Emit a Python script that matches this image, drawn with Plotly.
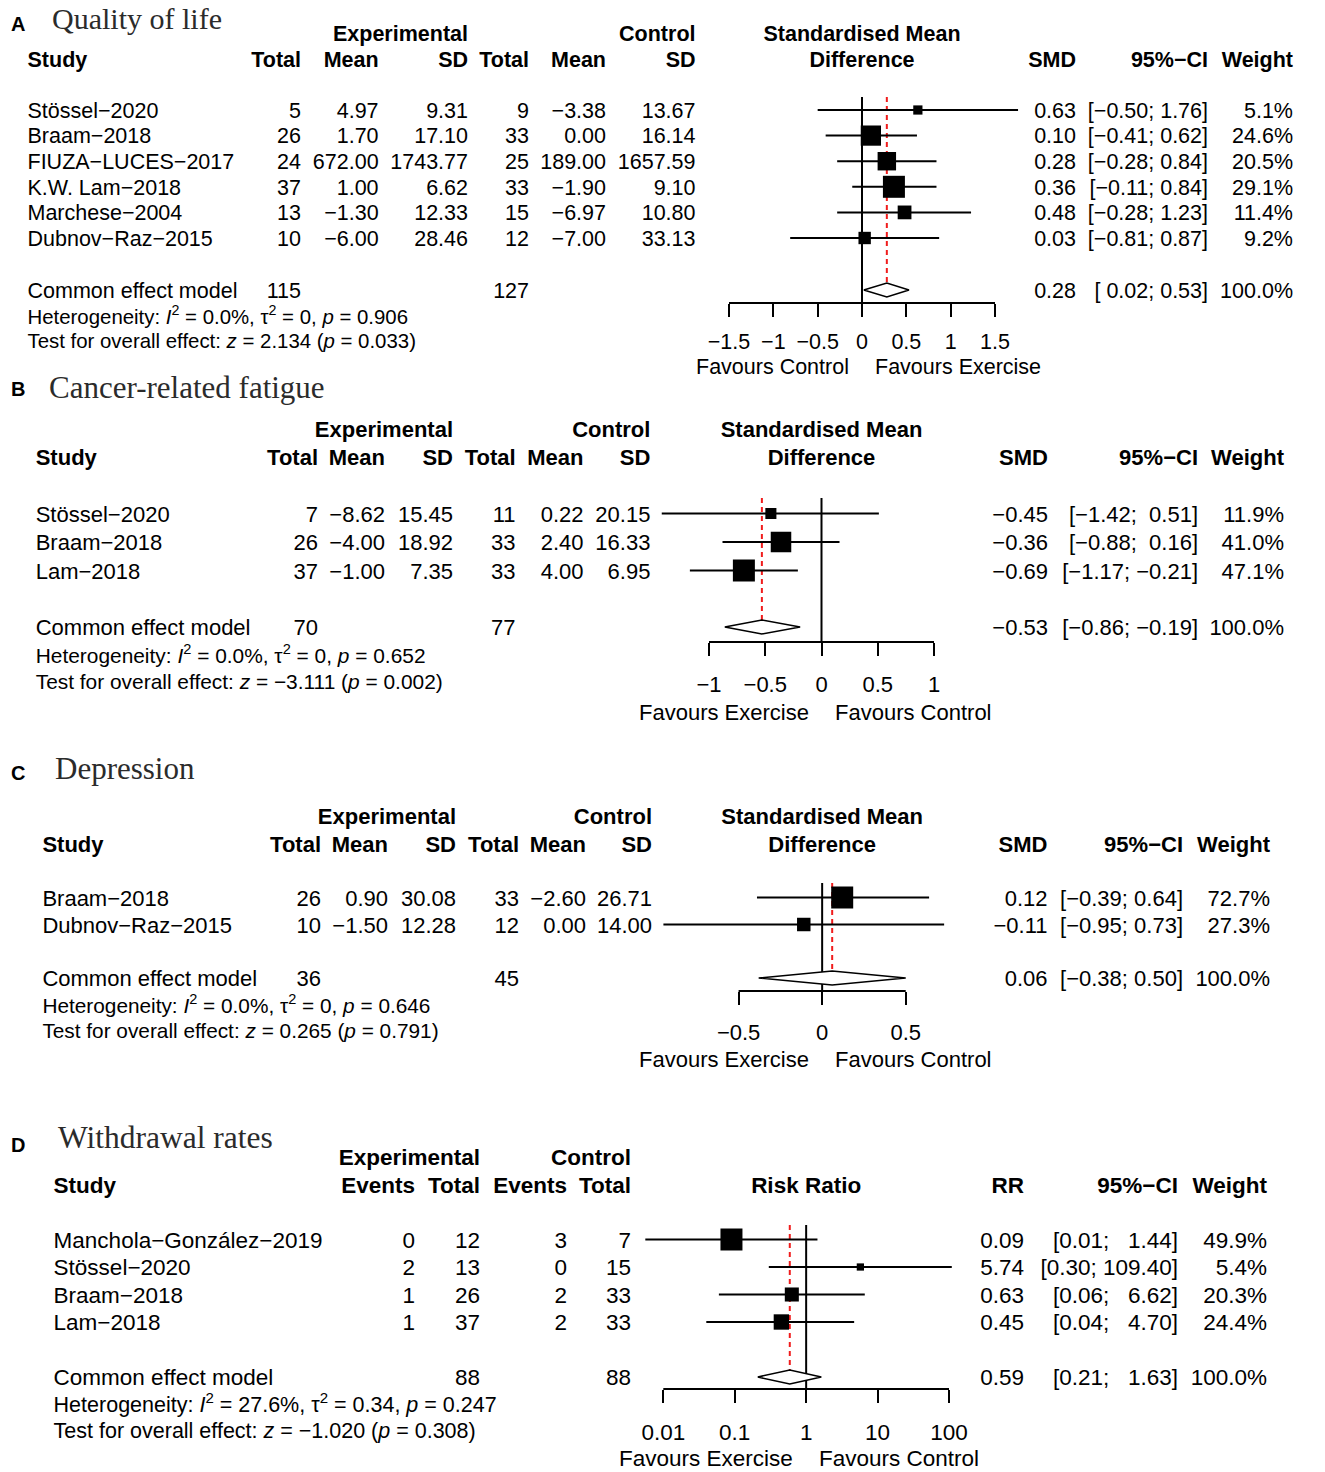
import math
import plotly.graph_objects as go

W, H = 1325, 1472
SANS = "Liberation Sans, Arial, Helvetica, sans-serif"
SERIF = "Liberation Serif, Times New Roman, serif"
MINUS = "\u2212"
TXT_DY = 2.5  # small downward nudge so text sits on the row centre

# ---------------- Panel A: Quality of life ----------------
A_study = ["Stössel−2020", "Braam−2018", "FIUZA−LUCES−2017", "K.W. Lam−2018", "Marchese−2004", "Dubnov−Raz−2015"]
A_exp_n = [5, 26, 24, 37, 13, 10]
A_exp_mean = [4.97, 1.70, 672.00, 1.00, -1.30, -6.00]
A_exp_sd = [9.31, 17.10, 1743.77, 6.62, 12.33, 28.46]
A_ctl_n = [9, 33, 25, 33, 15, 12]
A_ctl_mean = [-3.38, 0.00, 189.00, -1.90, -6.97, -7.00]
A_ctl_sd = [13.67, 16.14, 1657.59, 9.10, 10.80, 33.13]
A_est = [0.63, 0.10, 0.28, 0.36, 0.48, 0.03]
A_lo = [-0.50, -0.41, -0.28, -0.11, -0.28, -0.81]
A_hi = [1.76, 0.62, 0.84, 0.84, 1.23, 0.87]
A_weight = [5.1, 24.6, 20.5, 29.1, 11.4, 9.2]
A_pooled = [0.28, 0.02, 0.53]
A_total = [115, 127]
A_het = ["0.0%", "0", "0.906"]
A_test = ["2.134", "0.033"]
A_ticks = [-1.5, -1, -0.5, 0, 0.5, 1, 1.5]
A_ticklabels = ["−1.5", "−1", "−0.5", "0", "0.5", "1", "1.5"]
A_fav = ["Favours Control", "Favours Exercise"]

# ---------------- Panel B: Cancer-related fatigue ----------------
B_study = ["Stössel−2020", "Braam−2018", "Lam−2018"]
B_exp_n = [7, 26, 37]
B_exp_mean = [-8.62, -4.00, -1.00]
B_exp_sd = [15.45, 18.92, 7.35]
B_ctl_n = [11, 33, 33]
B_ctl_mean = [0.22, 2.40, 4.00]
B_ctl_sd = [20.15, 16.33, 6.95]
B_est = [-0.45, -0.36, -0.69]
B_lo = [-1.42, -0.88, -1.17]
B_hi = [0.51, 0.16, -0.21]
B_weight = [11.9, 41.0, 47.1]
B_pooled = [-0.53, -0.86, -0.19]
B_total = [70, 77]
B_het = ["0.0%", "0", "0.652"]
B_test = ["−3.111", "0.002"]
B_ticks = [-1, -0.5, 0, 0.5, 1]
B_ticklabels = ["−1", "−0.5", "0", "0.5", "1"]
B_fav = ["Favours Exercise", "Favours Control"]

# ---------------- Panel C: Depression ----------------
C_study = ["Braam−2018", "Dubnov−Raz−2015"]
C_exp_n = [26, 10]
C_exp_mean = [0.90, -1.50]
C_exp_sd = [30.08, 12.28]
C_ctl_n = [33, 12]
C_ctl_mean = [-2.60, 0.00]
C_ctl_sd = [26.71, 14.00]
C_est = [0.12, -0.11]
C_lo = [-0.39, -0.95]
C_hi = [0.64, 0.73]
C_weight = [72.7, 27.3]
C_pooled = [0.06, -0.38, 0.50]
C_total = [36, 45]
C_het = ["0.0%", "0", "0.646"]
C_test = ["0.265", "0.791"]
C_ticks = [-0.5, 0, 0.5]
C_ticklabels = ["−0.5", "0", "0.5"]
C_fav = ["Favours Exercise", "Favours Control"]

# ---------------- Panel D: Withdrawal rates ----------------
D_study = ["Manchola−González−2019", "Stössel−2020", "Braam−2018", "Lam−2018"]
D_exp_events = [0, 2, 1, 1]
D_exp_n = [12, 13, 26, 37]
D_ctl_events = [3, 0, 2, 2]
D_ctl_n = [7, 15, 33, 33]
D_est = [0.09, 5.74, 0.63, 0.45]
D_lo = [0.0056, 0.30, 0.06, 0.04]
D_hi = [1.44, 109.40, 6.62, 4.70]
D_weight = [49.9, 5.4, 20.3, 24.4]
D_pooled = [0.59, 0.21, 1.63]
D_total = [88, 88]
D_het = ["27.6%", "0.34", "0.247"]
D_test = ["−1.020", "0.308"]
D_ticks = [0.01, 0.1, 1, 10, 100]
D_ticklabels = ["0.01", "0.1", "1", "10", "100"]
D_fav = ["Favours Exercise", "Favours Control"]


def fmt(v, d=2):
    return f"{v:.{d}f}".replace("-", MINUS)


def pad_left(strs):
    n = max(len(s) for s in strs)
    return ["\u00a0" * (n - len(s)) + s for s in strs]


def ci_strings(lo, hi):
    los = pad_left([fmt(v) for v in lo])
    his = pad_left([fmt(v) for v in hi])
    return [f"[{a}; {b}]" for a, b in zip(los, his)]


fig = go.Figure()


def text_trace(x, ys, texts, pos, size, bold=False, family=SANS, color="black", xaxis="x"):
    if bold:
        texts = [f"<b>{t}</b>" for t in texts]
    fig.add_trace(go.Scatter(
        x=[x] * len(ys), y=[y + TXT_DY for y in ys], text=texts, mode="text", textposition=pos,
        textfont=dict(family=family, size=size, color=color),
        xaxis=xaxis, yaxis="y", hoverinfo="skip", showlegend=False, cliponaxis=False))


def line_trace(xs, ys, ax, width=2, color="black", dash="solid"):
    fig.add_trace(go.Scatter(
        x=xs, y=ys, mode="lines", line=dict(color=color, width=width, dash=dash),
        xaxis=ax, yaxis="y", hoverinfo="skip", showlegend=False))


def draw_panel(lay, letter, title, study, col_hdr, col_vals, grp_hdr, common_vals,
               est, lo, hi, weight, pooled, est_hdr, fx_hdr, het, test,
               ticks, ticklabels, fav, log=False):
    fs = lay["fs"]
    n = len(study)
    rows = [lay["row0"] + i * lay["dy"] for i in range(n)]
    # letter and title
    text_trace(lay["letter_x"], [lay["letter_y"]], [letter], "middle right", lay["letter_fs"], bold=True)
    text_trace(lay["title_x"], [lay["title_y"]], [title], "middle right", lay["title_fs"],
               family=SERIF, color="#2b2b2b")
    # headers
    text_trace(lay["study_x"], [lay["h2"]], ["Study"], "middle right", fs, bold=True)
    for (gx, gtxt) in zip(lay["grp_x"], grp_hdr):
        text_trace(gx, [lay["h1"]], [gtxt], "middle left", fs, bold=True)
    for cx, h in zip(lay["cols"], col_hdr):
        text_trace(cx, [lay["h2"]], [h], "middle left", fs, bold=True)
    for rx, h in zip(lay["right"], [est_hdr, "95%−CI", "Weight"]):
        text_trace(rx, [lay["h2"]], [h], "middle left", fs, bold=True)
    # study rows
    text_trace(lay["study_x"], rows, study, "middle right", fs)
    for cx, vals in zip(lay["cols"], col_vals):
        text_trace(cx, rows, vals, "middle left", fs)
    ci_txt = ci_strings(lo + [pooled[1]], hi + [pooled[2]])
    est_txt = [fmt(v) for v in est + [pooled[0]]]
    w_txt = [f"{w:.1f}%" for w in weight] + ["100.0%"]
    allrows = rows + [lay["common"]]
    text_trace(lay["right"][0], allrows, est_txt, "middle left", fs)
    text_trace(lay["right"][1], allrows, ci_txt, "middle left", fs)
    text_trace(lay["right"][2], allrows, w_txt, "middle left", fs)
    # common effect row + heterogeneity
    text_trace(lay["study_x"], [lay["common"]], ["Common effect model"], "middle right", fs)
    for cx, v in zip(lay["common_cols"], common_vals):
        text_trace(cx, [lay["common"]], [str(v)], "middle left", fs)
    het_txt = (f"Heterogeneity: <i>I</i><sup>2</sup> = {het[0]}, τ<sup>2</sup> = {het[1]}, "
               f"<i>p</i> = {het[2]}")
    test_txt = f"Test for overall effect: <i>z</i> = {test[0]} (<i>p</i> = {test[1]})"
    text_trace(lay["study_x"], [lay["het"]], [het_txt], "middle right", lay["het_fs"])
    text_trace(lay["study_x"], [lay["test"]], [test_txt], "middle right", lay["het_fs"])

    # ---- forest axis ----
    ax = lay["ax"]
    axname = "xaxis" + ax[1:]
    t0, t1 = ticks[0], ticks[-1]
    if log:
        t0, t1 = math.log10(t0), math.log10(t1)
    s = (lay["tick_px"][1] - lay["tick_px"][0]) / (t1 - t0)
    r0 = t0 + (lay["dom"][0] - lay["tick_px"][0]) / s
    r1 = t0 + (lay["dom"][1] - lay["tick_px"][0]) / s
    fig.layout[axname] = dict(
        domain=[lay["dom"][0] / W, lay["dom"][1] / W], range=[r0, r1],
        type="log" if log else "linear", anchor="free", position=1 - lay["axis"] / H,
        tickmode="array", tickvals=ticks, ticktext=ticklabels, ticks="outside",
        ticklen=13, tickwidth=2, tickcolor="black", showline=False, showgrid=False,
        zeroline=False, tickfont=dict(family=SANS, size=fs, color="black"),
        ticklabelstandoff=lay["standoff"], fixedrange=True)
    ref = 1 if log else 0
    center = math.sqrt(ticks[0] * ticks[-1]) if log else (ticks[0] + ticks[-1]) / 2
    # header above forest
    if len(fx_hdr) == 2:
        text_trace(center, [lay["h1"]], [fx_hdr[0]], "middle center", fs, bold=True, xaxis=ax)
    text_trace(center, [lay["h2"]], [fx_hdr[-1]], "middle center", fs, bold=True, xaxis=ax)
    # axis line
    line_trace([ticks[0], ticks[-1]], [lay["axis"], lay["axis"]], ax, width=2)
    # reference line
    line_trace([ref, ref], [lay["zero_top"], lay["axis"]], ax, width=2)
    # pooled dashed line
    dh = 7
    line_trace([pooled[0], pooled[0]], [lay["zero_top"], lay["common"] - dh], ax,
               width=2, color="#f01c1c", dash="5px,4px")
    # CI lines
    xs, ys = [], []
    for y, a, b in zip(rows, lo, hi):
        xs += [a, b, None]
        ys += [y, y, None]
    line_trace(xs, ys, ax, width=2)
    # squares (side proportional to sqrt of weight)
    wmax = max(weight)
    sizes = [22 * math.sqrt(w / wmax) for w in weight]
    fig.add_trace(go.Scatter(
        x=est, y=rows, mode="markers",
        marker=dict(symbol="square", size=sizes, color="#000000", opacity=1,
                    line=dict(width=0)),
        xaxis=ax, yaxis="y", hoverinfo="skip", showlegend=False, cliponaxis=False))
    # diamond
    yc = lay["common"]
    fig.add_trace(go.Scatter(
        x=[pooled[1], pooled[0], pooled[2], pooled[0], pooled[1]],
        y=[yc, yc - dh, yc, yc + dh, yc], mode="lines", fill="toself",
        fillcolor="white", line=dict(color="black", width=1.5),
        xaxis=ax, yaxis="y", hoverinfo="skip", showlegend=False))
    # favours labels
    fig.add_annotation(x=0, y=lay["fav"], xref=ax, yref="y", text=fav[0], showarrow=False,
                       xanchor="right", yanchor="middle", xshift=-lay["fav_gap"],
                       font=dict(family=SANS, size=fs, color="black"))
    fig.add_annotation(x=0, y=lay["fav"], xref=ax, yref="y", text=fav[1], showarrow=False,
                       xanchor="left", yanchor="middle", xshift=lay["fav_gap"],
                       font=dict(family=SANS, size=fs, color="black"))


A_lay = dict(ax="x2", fs=21.5, het_fs=20.4, letter_x=11, letter_y=23, letter_fs=20,
             title_x=52, title_y=19, title_fs=30,
             h1=33, h2=59, row0=110, dy=25.6, common=290, het=316, test=340,
             axis=303, zero_top=97, fav=367, study_x=27.5,
             cols=[301, 378.6, 468, 529, 606, 695.5], grp_x=[468, 695.5],
             common_cols=[301, 529], right=[1076, 1208, 1293],
             tick_px=(729, 995), dom=(630, 1040), standoff=6, fav_gap=11)
B_lay = dict(ax="x3", fs=22, het_fs=20.9, letter_x=11, letter_y=388.5, letter_fs=20,
             title_x=49, title_y=388, title_fs=31,
             h1=429, h2=457, row0=513.5, dy=28.5, common=627, het=655.5, test=681,
             axis=642, zero_top=498, fav=712, study_x=35.7,
             cols=[318, 385, 453, 515.6, 583.5, 650.4], grp_x=[453, 650.4],
             common_cols=[318, 515.6], right=[1048, 1198, 1284],
             tick_px=(709, 934), dom=(630, 1040), standoff=10, fav_gap=11)
C_lay = dict(ax="x4", fs=22, het_fs=20.8, letter_x=11, letter_y=772, letter_fs=20,
             title_x=55, title_y=769, title_fs=31,
             h1=816, h2=843.5, row0=897.5, dy=27, common=978, het=1005.5, test=1030,
             axis=991, zero_top=883, fav=1059, study_x=42.4,
             cols=[321, 388, 456, 519, 586, 652], grp_x=[456, 652],
             common_cols=[321, 519], right=[1047.5, 1183, 1270],
             tick_px=(738.6, 905.7), dom=(630, 1040), standoff=9, fav_gap=11)
D_lay = dict(ax="x5", fs=22.5, het_fs=21.5, letter_x=11, letter_y=1144, letter_fs=20,
             title_x=58, title_y=1138, title_fs=31.5,
             h1=1157, h2=1184.5, row0=1239.5, dy=27.5, common=1377, het=1404, test=1430,
             axis=1389, zero_top=1225, fav=1458, study_x=53.6,
             cols=[415, 480, 567, 631], grp_x=[480, 631],
             common_cols=[480, 631], right=[1024, 1178, 1267],
             tick_px=(663.3, 949), dom=(600, 1040), standoff=10, fav_gap=11)

smd_hdr = ["Total", "Mean", "SD", "Total", "Mean", "SD"]

draw_panel(A_lay, "A", "Quality of life", A_study, smd_hdr,
           [[str(v) for v in A_exp_n], [fmt(v) for v in A_exp_mean], [fmt(v) for v in A_exp_sd],
            [str(v) for v in A_ctl_n], [fmt(v) for v in A_ctl_mean], [fmt(v) for v in A_ctl_sd]],
           ["Experimental", "Control"], A_total, A_est, A_lo, A_hi, A_weight, A_pooled,
           "SMD", ["Standardised Mean", "Difference"], A_het, A_test, A_ticks, A_ticklabels, A_fav)

draw_panel(B_lay, "B", "Cancer-related fatigue", B_study, smd_hdr,
           [[str(v) for v in B_exp_n], [fmt(v) for v in B_exp_mean], [fmt(v) for v in B_exp_sd],
            [str(v) for v in B_ctl_n], [fmt(v) for v in B_ctl_mean], [fmt(v) for v in B_ctl_sd]],
           ["Experimental", "Control"], B_total, B_est, B_lo, B_hi, B_weight, B_pooled,
           "SMD", ["Standardised Mean", "Difference"], B_het, B_test, B_ticks, B_ticklabels, B_fav)

draw_panel(C_lay, "C", "Depression", C_study, smd_hdr,
           [[str(v) for v in C_exp_n], [fmt(v) for v in C_exp_mean], [fmt(v) for v in C_exp_sd],
            [str(v) for v in C_ctl_n], [fmt(v) for v in C_ctl_mean], [fmt(v) for v in C_ctl_sd]],
           ["Experimental", "Control"], C_total, C_est, C_lo, C_hi, C_weight, C_pooled,
           "SMD", ["Standardised Mean", "Difference"], C_het, C_test, C_ticks, C_ticklabels, C_fav)

draw_panel(D_lay, "D", "Withdrawal rates", D_study, ["Events", "Total", "Events", "Total"],
           [[str(v) for v in D_exp_events], [str(v) for v in D_exp_n],
            [str(v) for v in D_ctl_events], [str(v) for v in D_ctl_n]],
           ["Experimental", "Control"], D_total, D_est, D_lo, D_hi, D_weight, D_pooled,
           "RR", ["Risk Ratio"], D_het, D_test, D_ticks, D_ticklabels, D_fav, log=True)

fig.update_layout(
    width=W, height=H, margin=dict(l=0, r=0, t=0, b=0),
    paper_bgcolor="white", plot_bgcolor="rgba(0,0,0,0)", showlegend=False, hovermode=False,
    xaxis=dict(range=[0, W], domain=[0, 1], visible=False, fixedrange=True),
    yaxis=dict(range=[H, 0], domain=[0, 1], visible=False, fixedrange=True),
)

fig.write_html(
    "out.html",
    config={"displayModeBar": False},
    post_script="document.body.style.margin='0';document.body.style.overflow='hidden';",
)
